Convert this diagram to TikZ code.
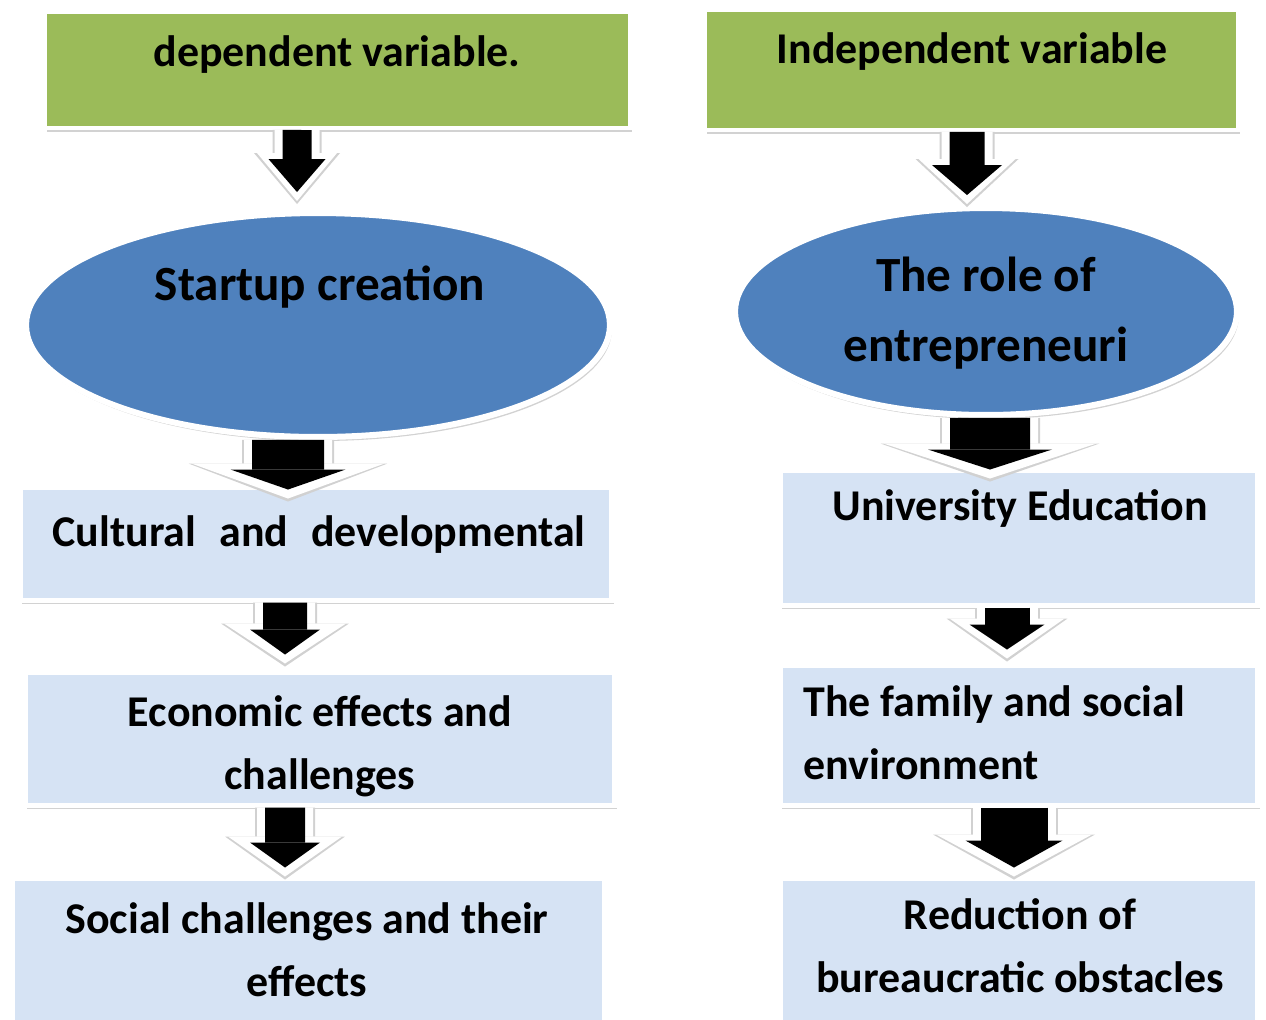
\documentclass[tikz,border=0pt]{standalone}
\usepackage{fontspec}
\setmainfont{Carlito}
\usetikzlibrary{shapes.geometric,arrows.meta,shadows}
\definecolor{headgreen}{RGB}{155,187,89}
\definecolor{ovalblue}{RGB}{79,129,189}
\definecolor{stepblue}{RGB}{214,227,244}
\tikzset{
  boxshadow/.style={drop shadow={shadow xshift=0.04cm,shadow yshift=-0.08cm,opacity=0.35}},
  headbox/.style={rectangle,fill=headgreen,draw=white,line width=0.08cm,inner sep=0pt,boxshadow},
  stepbox/.style={rectangle,fill=stepblue,draw=white,line width=0.1cm,inner sep=0pt,boxshadow},
  oval/.style={ellipse,fill=ovalblue,draw=white,line width=0.12cm,inner sep=0pt,boxshadow},
  txt/.style={font=\bfseries\fontsize{25}{36}\selectfont,align=center,inner sep=0pt},
  bigtxt/.style={txt,font=\bfseries\fontsize{28}{40}\selectfont},
}
% from, to, shaft, head width, head length, white head width
\newcommand\flowarrow[6]{%
  \draw[black!18,line width=#3cm+0.4cm,shorten >=-0.24cm,-{Triangle[width=#6cm+0.12cm,length=#5cm+0.36cm,line width=0pt]}] #1 -- #2;
  \draw[white,line width=#3cm+0.32cm,shorten >=-0.18cm,-{Triangle[width=#6cm,length=#5cm+0.3cm,line width=0pt]}] #1 -- #2;
  \draw[black,line width=#3cm,-{Triangle[width=#4cm,length=#5cm,line width=0pt]}] #1 -- #2;}
\begin{document}
\begin{tikzpicture}[x=0.02cm,y=-0.02cm]
  \useasboundingbox[fill=white] (0,0) rectangle (1266,1019);
  % left column
  \node[headbox,minimum width=11.7cm,minimum height=2.32cm] (dep) at (337.5,70) {};
  \node[oval,minimum width=11.68cm,minimum height=4.48cm] (start) at (318,325) {};
  \node[stepbox,minimum width=11.84cm,minimum height=2.26cm] (cult) at (316,543.5) {};
  \node[stepbox,minimum width=11.8cm,minimum height=2.66cm] (econ) at (320,738.5) {};
  \node[stepbox,minimum width=11.86cm,minimum height=3.04cm] (social) at (308.5,954) {};
  % right column
  \node[headbox,minimum width=10.66cm,minimum height=2.4cm] (indep) at (971.5,70) {};
  \node[oval,minimum width=10.04cm,minimum height=4.14cm] (role) at (986,311.5) {};
  \node[stepbox,minimum width=9.56cm,minimum height=2.7cm] (univ) at (1019,537.5) {};
  \node[stepbox,minimum width=9.56cm,minimum height=2.8cm] (family) at (1019,735) {};
  \node[stepbox,minimum width=9.56cm,minimum height=3.04cm] (reduc) at (1019,954) {};
  % texts
  \node[txt] (depT) at (337,55) {dependent variable.};
  \node[bigtxt] (startT) at (320,287) {Startup creation};
  \node[txt] (cultT) at (319,535) {Cultural\hspace{0.3em} and\hspace{0.3em} developmental};
  \node[txt] (econT) at (320,746) {Economic effects and\\challenges};
  \node[txt] (socialT) at (307,950) {Social challenges and their\\effects};
  \node[txt] (indepT) at (972,52) {Independent variable};
  \node[bigtxt] (roleT) at (986,313) {The role of\\entrepreneuri};
  \node[txt] (univT) at (1020,508) {University Education};
  \node[txt,align=left,anchor=west] (familyT) at (803,733) {The family and social\\environment};
  \node[txt] (reducT) at (1020,946) {Reduction of\\bureaucratic obstacles};
  % arrows
  \flowarrow{([xshift=-0.81cm]dep.south)}{([xshift=-0.42cm,yshift=0.36cm]start.north)}{0.58}{1.14}{0.66}{1.6}
  \flowarrow{([xshift=-0.6cm]start.south)}{([xshift=-0.56cm,yshift=-0.1cm]cult.north)}{1.44}{2.3}{0.4}{3.86}
  \flowarrow{([xshift=-0.62cm]cult.south)}{([xshift=-0.7cm,yshift=0.3cm]econ.north)}{0.88}{1.4}{0.5}{2.44}
  \flowarrow{([xshift=-0.7cm]econ.south)}{([xshift=-0.47cm,yshift=0.16cm]social.north)}{0.8}{1.4}{0.5}{2.28}
  \flowarrow{([xshift=-0.09cm]indep.south)}{([xshift=-0.38cm,yshift=0.2cm]role.north)}{0.7}{1.4}{0.6}{1.94}
  \flowarrow{([xshift=0.08cm]role.south)}{([xshift=-0.58cm,yshift=-0.04cm]univ.north)}{1.6}{2.48}{0.4}{4.26}
  \flowarrow{([xshift=-0.24cm]univ.south)}{([xshift=-0.24cm,yshift=0.26cm]family.north)}{0.9}{1.5}{0.5}{2.3}
  \flowarrow{([xshift=-0.1cm]family.south)}{([xshift=-0.1cm,yshift=0.16cm]reduc.north)}{1.34}{1.94}{0.54}{3.12}
\end{tikzpicture}
\end{document}
